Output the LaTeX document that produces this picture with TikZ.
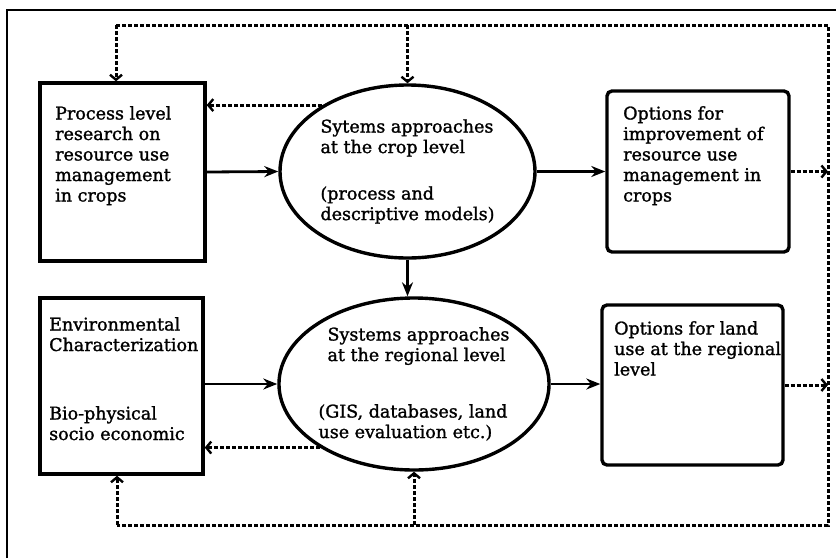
\documentclass[tikz,border=0pt]{standalone}
\usepackage{fontspec}
\setmainfont{DejaVu Serif}
\newfontfamily\diagfont{DejaVu Serif}[FakeBold=1.4]
\usetikzlibrary{arrows.meta,shapes.geometric}
\begin{document}
\begin{tikzpicture}[x=1pt,y=-1pt,
  every node/.style={font=\diagfont\fontsize{17.5}{20.5}\selectfont},
  sqbox/.style={draw,line width=3.4pt,inner sep=0pt},
  rbox/.style={draw,line width=3.4pt,rounded corners=5pt,inner sep=0pt},
  ell/.style={draw,ellipse,line width=3.4pt,inner sep=0pt,align=left},
  txt/.style={inner sep=0pt,align=left,anchor=north west},
  solidarrow/.style={line width=2.8pt,-{Stealth[length=14pt,width=11pt]}},
  dashline/.style={line width=3pt,dash pattern=on 4pt off 2pt},
  dasharrow/.style={dashline,-{Straight Barb[length=5pt,width=12pt,line width=2.4pt]}},
  frameline/.style={line width=2.2pt}]
\useasboundingbox (0,0) rectangle (836,558);
\draw[frameline] (7,558) -- (7,10) -- (836,10);

% boxes
\node[sqbox,minimum width=165pt,minimum height=178pt] (b1) at (122.5,172) {};
\node[rbox,minimum width=182pt,minimum height=161pt] (b3) at (698,171.5) {};
\node[sqbox,minimum width=163pt,minimum height=176pt] (b4) at (121.5,386) {};
\node[rbox,minimum width=181pt,minimum height=160pt] (b5) at (692.5,385) {};

% ellipses
\node[ell,minimum width=255pt,minimum height=173pt] (e1) at (407.5,171.5)
  {Sytems approaches\\at the crop level\\[26pt](process and\\descriptive models)};
\node[ell,minimum width=252pt,minimum height=172pt] (e2) at (414,384)
  {\hspace*{9pt}Systems approaches\\\hspace*{9pt}at the regional level\\[36pt](GIS, databases, land\\use evaluation etc.)};

% box texts
\node[txt] (t1) at (55,106) {Process level\\research on\\resource use\\management\\in crops};
\node[txt] (t3) at (623,106) {Options for\\improvement of\\resource use\\management in\\crops};
\node[txt] (t4a) at (49,317) {Environmental\\Characterization};
\node[txt] (t4b) at (49,406) {Bio-physical\\socio economic};
\node[txt] (t5) at (614,321) {Options for land\\use at the regional\\level};

% feedback frame corners
\coordinate (tl) at (116,25);
\coordinate (tr) at (828,25);
\coordinate (br) at (828,525);
\coordinate (bl) at (117,525);
\draw[dashline] (tl) -- (tr) -- (br) -- (bl);

% solid arrows
\draw[solidarrow] (b1.east) -- (e1.west);
\draw[solidarrow] (e1.east) -- (e1.east -| b3.west);
\draw[solidarrow] (e1.south) -- (e1.south |- e2.north);
\draw[solidarrow] (b4.east |- e2.west) -- (e2.west);
\draw[solidarrow] (e2.east) -- (e2.east -| b5.west);

% dashed arrows
\draw[dasharrow] (tl) -- (tl |- b1.north);
\draw[dasharrow] (e1.north |- tl) -- (e1.north);
\draw[dasharrow] (e1.142.8) -- (e1.142.8 -| b1.east);
\draw[dasharrow] (b3.east) -- (b3.east -| tr);
\draw[dasharrow] (b5.east) -- (b5.east -| tr);
\draw[dasharrow] (e2.214.5) -- (e2.214.5 -| b4.east);
\draw[dasharrow] (bl) -- (bl |- b4.south);
\draw[dasharrow] (e2.south |- bl) -- (e2.south);
\end{tikzpicture}
\end{document}
